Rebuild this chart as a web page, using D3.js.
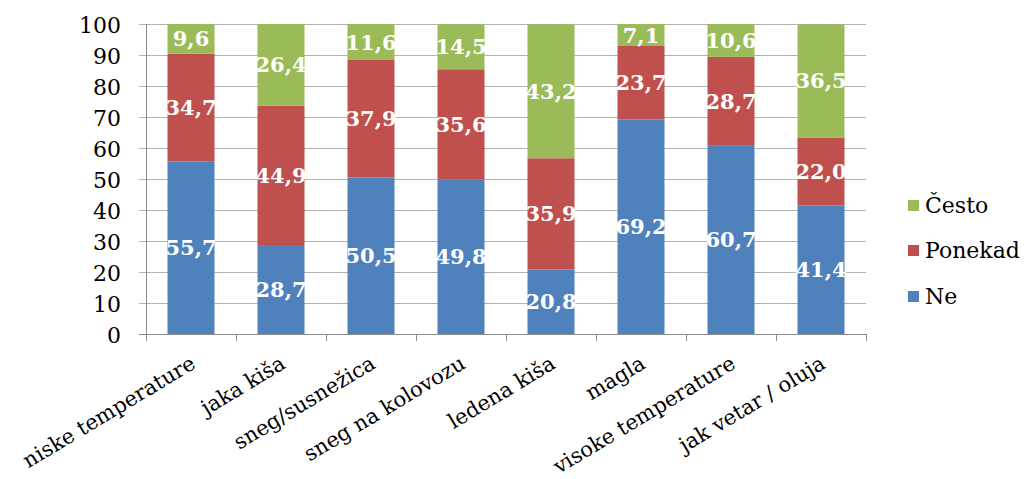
<!DOCTYPE html>
<html><head><meta charset="utf-8">
<script src="https://cdn.jsdelivr.net/npm/d3@7"></script>
<style>body{margin:0;background:#fff}svg{display:block}</style>
</head><body>
<svg id="c" width="1027" height="479"></svg>
<script>
const categories = ["niske temperature","jaka kiša","sneg/susnežica","sneg na kolovozu","ledena kiša","magla","visoke temperature","jak vetar / oluja"];
const ne      = [55.7, 28.7, 50.5, 49.8, 20.8, 69.2, 60.7, 41.4];
const ponekad = [34.7, 44.9, 37.9, 35.6, 35.9, 23.7, 28.7, 22.0];
const cesto   = [9.6, 26.4, 11.6, 14.5, 43.2, 7.1, 10.6, 36.5];
const seriesNames = ["Ne","Ponekad","Često"];
const yTicks = [0,10,20,30,40,50,60,70,80,90,100];
const colors = {"Ne":"#4F81BD","Ponekad":"#C0504D","Često":"#9BBB59"};

const svg = d3.select("#c");
const L = 146, R = 866, T = 24, B = 334;
const x = d3.scaleBand().domain(categories).range([L, R]).paddingInner(0.478).paddingOuter(0.239);
const y = d3.scaleLinear().domain([0,100]).range([B, T]);
const font = "'DejaVu Serif', serif";

const rows = categories.map((c,i)=>({cat:c, "Ne":ne[i], "Ponekad":ponekad[i], "Često":cesto[i]}));
const stacked = d3.stack().keys(seriesNames)(rows);

// gridlines
svg.append("g").selectAll("line").data(yTicks).join("line")
  .attr("x1", L-7).attr("x2", R).attr("y1", d=>Math.round(y(d))+0.5).attr("y2", d=>Math.round(y(d))+0.5)
  .attr("stroke", d=> d===0 ? "#8c8c8c" : "#b3b3b3").attr("stroke-width",1);

// y axis labels
svg.append("g").selectAll("text").data(yTicks).join("text")
  .attr("x", L-25).attr("y", d=>y(d)+1).attr("dy","0.36em")
  .attr("text-anchor","end").attr("font-family",font).attr("font-size",22).attr("fill","#000")
  .text(d=>d);

// y axis line
svg.append("line").attr("x1",L+0.5).attr("x2",L+0.5).attr("y1",T).attr("y2",B+1).attr("stroke","#8c8c8c");

// x ticks
const bounds = categories.map(c=>x(c)-x.step()*x.paddingInner()/2);
bounds.push(R);
svg.append("g").selectAll("line").data(bounds).join("line")
  .attr("x1",d=>Math.round(d)+0.5).attr("x2",d=>Math.round(d)+0.5).attr("y1",B).attr("y2",B+7)
  .attr("stroke","#8c8c8c");

// bars
const g = svg.append("g");
stacked.forEach(s=>{
  g.append("g").selectAll("rect").data(s).join("rect")
    .attr("x", d=>x(d.data.cat)).attr("width", x.bandwidth())
    .attr("y", d=>y(d[1])).attr("height", d=>y(d[0])-y(d[1]))
    .attr("fill", colors[s.key]);
});
// labels
stacked.forEach(s=>{
  g.append("g").selectAll("text").data(s).join("text")
    .attr("x", d=>x(d.data.cat)+x.bandwidth()/2)
    .attr("y", d=>y((d[0]+d[1])/2)).attr("dy","0.36em")
    .attr("text-anchor","middle").attr("font-family",font).attr("font-weight","bold")
    .attr("font-size",21).attr("fill","#fff")
    .text(d=>d3.format(".1f")(d[1]-d[0]).replace(".",","));
});

// x labels
svg.append("g").selectAll("text").data(categories).join("text")
  .attr("transform", c=>`translate(${x(c)+x.bandwidth()/2+2},${B+27}) rotate(-31)`)
  .attr("text-anchor","end").attr("dy","0.35em")
  .attr("font-family",font).attr("font-size",21).attr("fill","#000")
  .text(c=>c);

// legend
const leg = ["Često","Ponekad","Ne"];
const legY = [205, 250, 296];
const lg = svg.append("g");
leg.forEach((k,i)=>{
  lg.append("rect").attr("x",908).attr("y",legY[i]-5).attr("width",11).attr("height",11).attr("fill",colors[k]);
  lg.append("text").attr("x",925).attr("y",legY[i]).attr("dy","0.36em")
    .attr("font-family",font).attr("font-size",22).attr("fill","#000").text(k);
});
</script>
</body></html>
